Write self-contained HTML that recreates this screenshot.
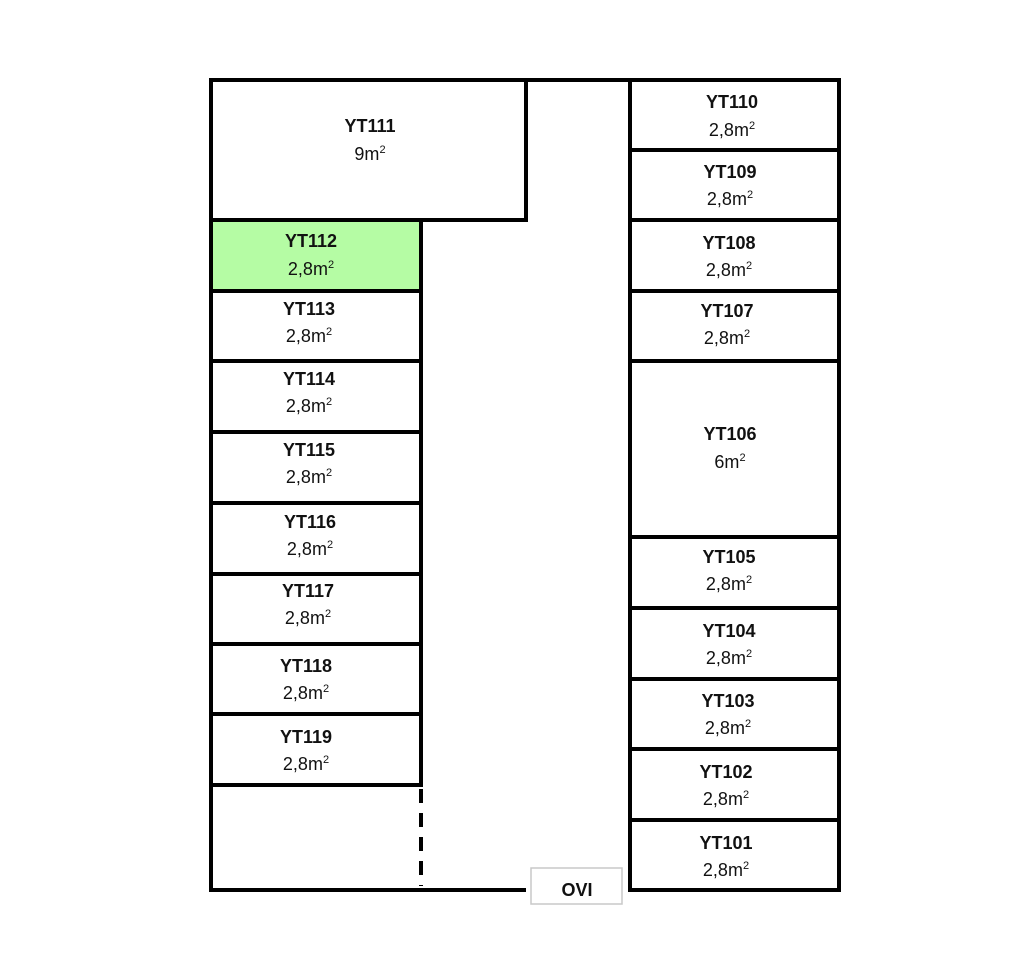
<!DOCTYPE html>
<html><head><meta charset="utf-8"><style>
html,body{margin:0;padding:0;background:#fff;}
svg{display:block;}
text{font-family:"Liberation Sans",Arial,sans-serif;fill:#111;text-anchor:middle;}
.l{font-weight:bold;font-size:18px;}
.v{font-size:18px;}
.s{font-size:11px;}
</style></head><body>
<svg width="1025" height="963" viewBox="0 0 1025 963" xmlns="http://www.w3.org/2000/svg">
<rect x="211" y="220" width="210" height="71" fill="#b5fca4"/>
<g stroke="#000" stroke-width="4" fill="none" stroke-linecap="square">
<line x1="211" y1="80" x2="839" y2="80"/>
<line x1="211" y1="80" x2="211" y2="890"/>
<line x1="839" y1="80" x2="839" y2="890"/>
<line x1="526" y1="80" x2="526" y2="220"/>
<line x1="211" y1="220" x2="526" y2="220"/>
<line x1="421" y1="220" x2="421" y2="785"/>
<line x1="630" y1="80" x2="630" y2="890"/>
<line x1="211" y1="890" x2="524" y2="890"/>
<line x1="630" y1="890" x2="839" y2="890"/>
<line x1="211" y1="291" x2="421" y2="291"/>
<line x1="211" y1="361" x2="421" y2="361"/>
<line x1="211" y1="432" x2="421" y2="432"/>
<line x1="211" y1="503" x2="421" y2="503"/>
<line x1="211" y1="574" x2="421" y2="574"/>
<line x1="211" y1="644" x2="421" y2="644"/>
<line x1="211" y1="714" x2="421" y2="714"/>
<line x1="211" y1="785" x2="421" y2="785"/>
<line x1="630" y1="150" x2="839" y2="150"/>
<line x1="630" y1="220" x2="839" y2="220"/>
<line x1="630" y1="291" x2="839" y2="291"/>
<line x1="630" y1="361" x2="839" y2="361"/>
<line x1="630" y1="537" x2="839" y2="537"/>
<line x1="630" y1="608" x2="839" y2="608"/>
<line x1="630" y1="679" x2="839" y2="679"/>
<line x1="630" y1="749" x2="839" y2="749"/>
<line x1="630" y1="820" x2="839" y2="820"/>
</g>
<line x1="421" y1="789" x2="421" y2="886" stroke="#000" stroke-width="4" stroke-dasharray="14,10"/>
<rect x="531" y="868" width="91" height="36" fill="#fff" stroke="#c8c8c8" stroke-width="1.5"/>
<text x="577" y="896" class="l">OVI</text>

<text x="370" y="132" class="l">YT111</text><text x="370" y="160" class="v">9m<tspan class="s" dy="-7">2</tspan></text>

<text x="311" y="247" class="l">YT112</text><text x="311" y="275" class="v">2,8m<tspan class="s" dy="-7">2</tspan></text>
<text x="309" y="315" class="l">YT113</text><text x="309" y="342" class="v">2,8m<tspan class="s" dy="-7">2</tspan></text>
<text x="309" y="385" class="l">YT114</text><text x="309" y="412" class="v">2,8m<tspan class="s" dy="-7">2</tspan></text>
<text x="309" y="456" class="l">YT115</text><text x="309" y="483" class="v">2,8m<tspan class="s" dy="-7">2</tspan></text>
<text x="310" y="528" class="l">YT116</text><text x="310" y="555" class="v">2,8m<tspan class="s" dy="-7">2</tspan></text>
<text x="308" y="597" class="l">YT117</text><text x="308" y="624" class="v">2,8m<tspan class="s" dy="-7">2</tspan></text>
<text x="306" y="672" class="l">YT118</text><text x="306" y="699" class="v">2,8m<tspan class="s" dy="-7">2</tspan></text>
<text x="306" y="743" class="l">YT119</text><text x="306" y="770" class="v">2,8m<tspan class="s" dy="-7">2</tspan></text>

<text x="732" y="108" class="l">YT110</text><text x="732" y="136" class="v">2,8m<tspan class="s" dy="-7">2</tspan></text>
<text x="730" y="178" class="l">YT109</text><text x="730" y="205" class="v">2,8m<tspan class="s" dy="-7">2</tspan></text>
<text x="729" y="249" class="l">YT108</text><text x="729" y="276" class="v">2,8m<tspan class="s" dy="-7">2</tspan></text>
<text x="727" y="317" class="l">YT107</text><text x="727" y="344" class="v">2,8m<tspan class="s" dy="-7">2</tspan></text>
<text x="730" y="440" class="l">YT106</text><text x="730" y="468" class="v">6m<tspan class="s" dy="-7">2</tspan></text>
<text x="729" y="563" class="l">YT105</text><text x="729" y="590" class="v">2,8m<tspan class="s" dy="-7">2</tspan></text>
<text x="729" y="637" class="l">YT104</text><text x="729" y="664" class="v">2,8m<tspan class="s" dy="-7">2</tspan></text>
<text x="728" y="707" class="l">YT103</text><text x="728" y="734" class="v">2,8m<tspan class="s" dy="-7">2</tspan></text>
<text x="726" y="778" class="l">YT102</text><text x="726" y="805" class="v">2,8m<tspan class="s" dy="-7">2</tspan></text>
<text x="726" y="849" class="l">YT101</text><text x="726" y="876" class="v">2,8m<tspan class="s" dy="-7">2</tspan></text>
</svg>
</body></html>
